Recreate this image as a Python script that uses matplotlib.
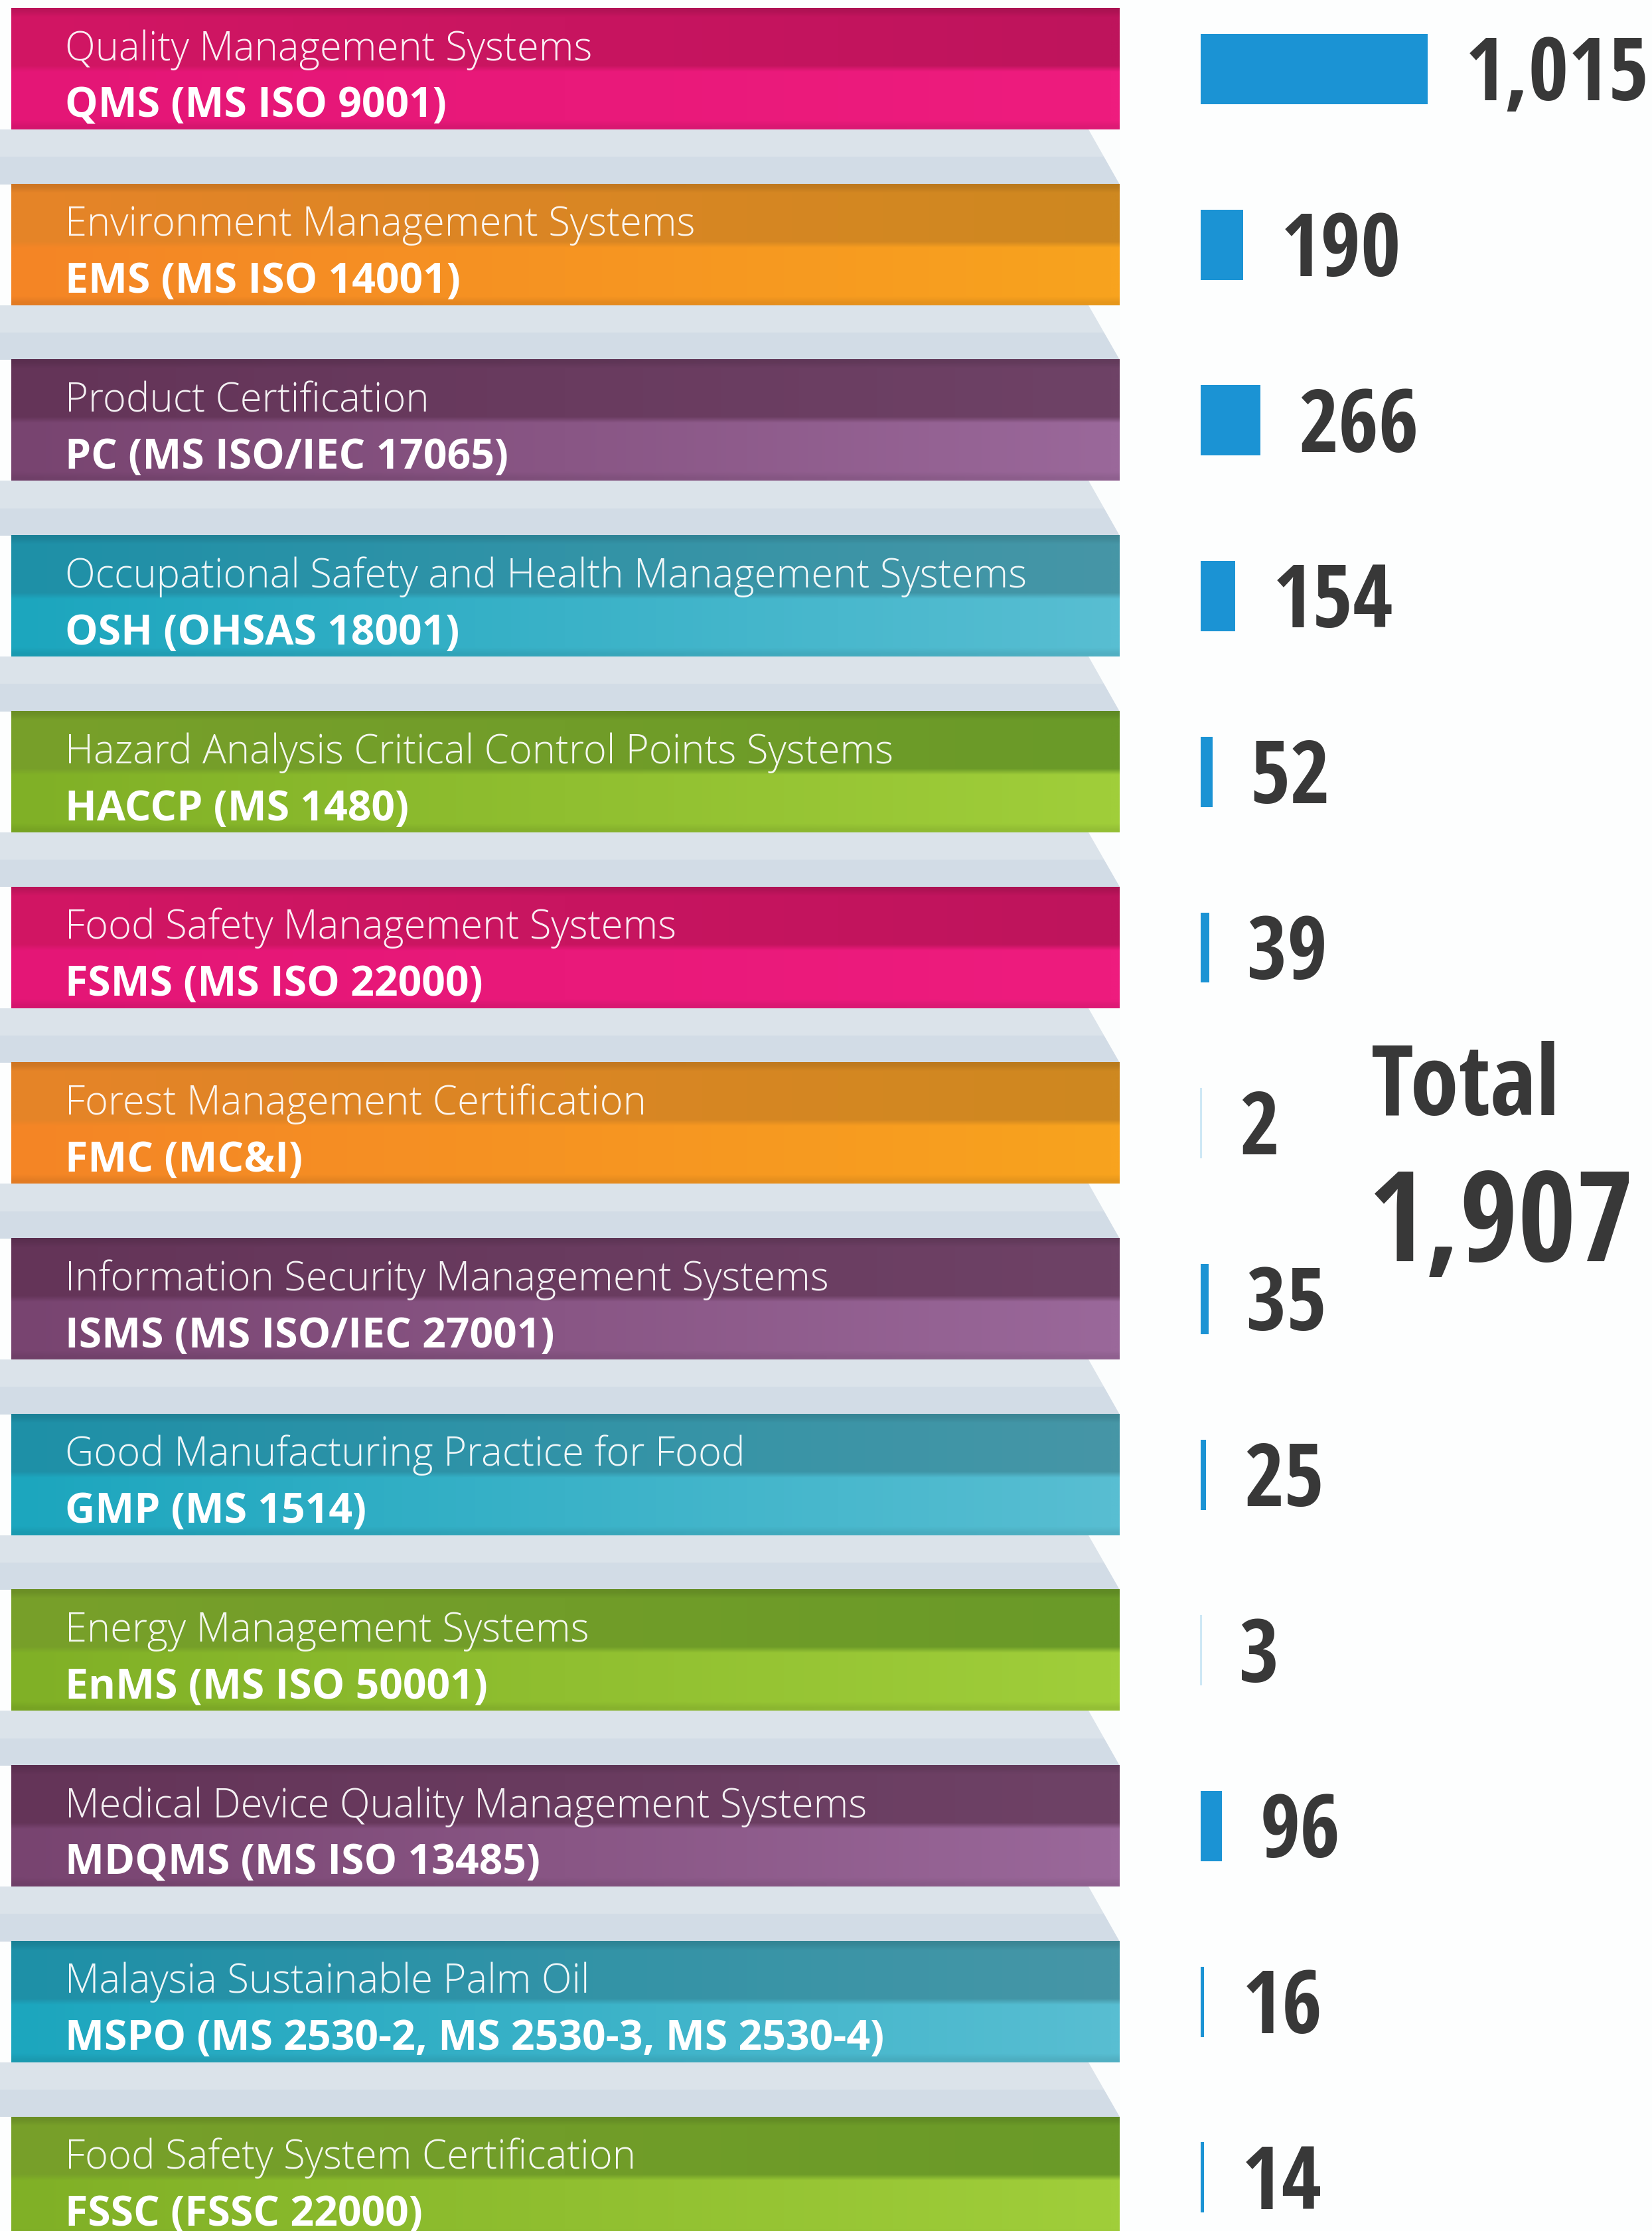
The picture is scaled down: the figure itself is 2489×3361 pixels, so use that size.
import numpy as np
import matplotlib
matplotlib.use('Agg')
import matplotlib.pyplot as plt
from matplotlib.patches import Polygon


# chart data
titles = ['Quality Management Systems',
          'Environment Management Systems',
          'Product Certification',
          'Occupational Safety and Health Management Systems',
          'Hazard Analysis Critical Control Points Systems',
          'Food Safety Management Systems',
          'Forest Management Certification',
          'Information Security Management Systems',
          'Good Manufacturing Practice for Food',
          'Energy Management Systems',
          'Medical Device Quality Management Systems',
          'Malaysia Sustainable Palm Oil',
          'Food Safety System Certification']
codes = ['QMS (MS ISO 9001)',
         'EMS (MS ISO 14001)',
         'PC (MS ISO/IEC 17065)',
         'OSH (OHSAS 18001)',
         'HACCP (MS 1480)',
         'FSMS (MS ISO 22000)',
         'FMC (MC&I)',
         'ISMS (MS ISO/IEC 27001)',
         'GMP (MS 1514)',
         'EnMS (MS ISO 50001)',
         'MDQMS (MS ISO 13485)',
         'MSPO (MS 2530-2, MS 2530-3, MS 2530-4)',
         'FSSC (FSSC 22000)']
counts = [1015, 190, 266, 154, 52, 39, 2, 35, 25, 3, 96, 16, 14]
banner_kind = ['pink', 'orange', 'purple', 'teal', 'green',
               'pink', 'orange', 'purple', 'teal', 'green',
               'purple', 'teal', 'green']

# top-left, top-right, bottom-left, bottom-right colours of each ribbon
ribbon = {
    'pink':   [(210, 22, 100), (190, 20, 92), (228, 22, 118), (238, 28, 126)],
    'orange': [(230, 132, 40), (206, 136, 32), (244, 133, 38), (248, 163, 30)],
    'purple': [(100, 52, 88), (110, 66, 102), (120, 68, 112), (154, 104, 154)],
    'teal':   [(30, 144, 168), (70, 150, 166), (28, 166, 190), (88, 190, 210)],
    'green':  [(120, 160, 42), (106, 154, 40), (128, 176, 38), (160, 206, 58)],
}

W, H = 2489, 3361
pitch = 264.7          # pixels between rows
first = 104            # pixel centre of first row
ylim = ((H - first) / pitch, -first / pitch)
half = 0.344           # half ribbon height in rows

val_font = ['Liberation Sans Narrow', 'Open Sans Condensed', 'Open Sans', 'DejaVu Sans']
lab_font = ['Open Sans', 'DejaVu Sans']

fig = plt.figure(figsize=(W / 100, H / 100), dpi=100, facecolor='#fdfefe')

# ---- left part: coloured ribbons with the names
axl = fig.add_axes([0, 0, 1687 / W, 1])
axl.set_facecolor('#d6dfe8')
rows = np.arange(len(titles))


def ribbon_img(c):
    tl, tr, bl, br = [np.array(x) / 255 for x in c]
    t = np.linspace(0, 1, 64)[None, :, None]
    top = tl * (1 - t) + tr * t
    bot = bl * (1 - t) + br * t
    img = np.concatenate([np.repeat(top, 10, 0), np.repeat(bot, 10, 0)], 0)
    img[0] = img[0] * 0.9
    img[-1] = img[-1] * 0.93
    return img


for i in rows:
    # gap between ribbons: soft tones and a white fold on the right
    if i < len(rows) - 1:
        g0, g1 = i + half, i + 1 - half
        gm = (g0 + g1) / 2
        axl.fill_between([0, 1], g0, gm, color='#dbe3ea', lw=0, zorder=1)
        axl.fill_between([0, 1], gm, g1, color='#d2dce6', lw=0, zorder=1)
        axl.add_patch(Polygon([(1640 / 1687, g0), (1.0, g0), (1.0, g1)],
                              closed=True, color='#fbfdfd', lw=0, zorder=1.5))
    axl.imshow(ribbon_img(ribbon[banner_kind[i]]),
               extent=[17 / 1687, 1.0, i + half, i - half],
               aspect='auto', interpolation='bilinear', zorder=2)
    axl.text(0.058, i - 0.05, titles[i], family=lab_font, weight='light',
             fontsize=43, color='white', alpha=0.93, va='baseline', zorder=3)
    axl.text(0.058, i + 0.275, codes[i], family=lab_font, weight='bold',
             fontsize=45, color='white', va='baseline', zorder=3)

axl.set_xlim(0, 1)
axl.set_ylim(*ylim)
axl.axis('off')
axl.patch.set_visible(True)

# ---- right part: blue bars with counts
axr = fig.add_axes([1809 / W, 0, (W - 1809) / W, 1])
axr.patch.set_alpha(0)
axr.barh(rows, counts, height=0.40, color='#1b93d4', zorder=2)
for i, v in zip(rows, counts):
    axr.annotate(f'{v:,}', (v, i), xytext=(41, -34), textcoords='offset points',
                 family=val_font, fontsize=94, color='#383838',
                 ha='left', va='baseline')
axr.set_xlim(0, (W - 1809) / 0.337)
axr.set_ylim(*ylim)
axr.axis('off')

# total
fig.text(2066 / W, 1 - 1680 / H, 'Total', family=val_font, weight='bold',
         fontsize=106, color='#383838', ha='left', va='baseline')
fig.text(2062 / W, 1 - 1900 / H, f'{sum(counts):,}', family=val_font,
         weight='bold', fontsize=136, color='#383838', ha='left', va='baseline')

fig.savefig('out.png', dpi=100, facecolor=fig.get_facecolor())
